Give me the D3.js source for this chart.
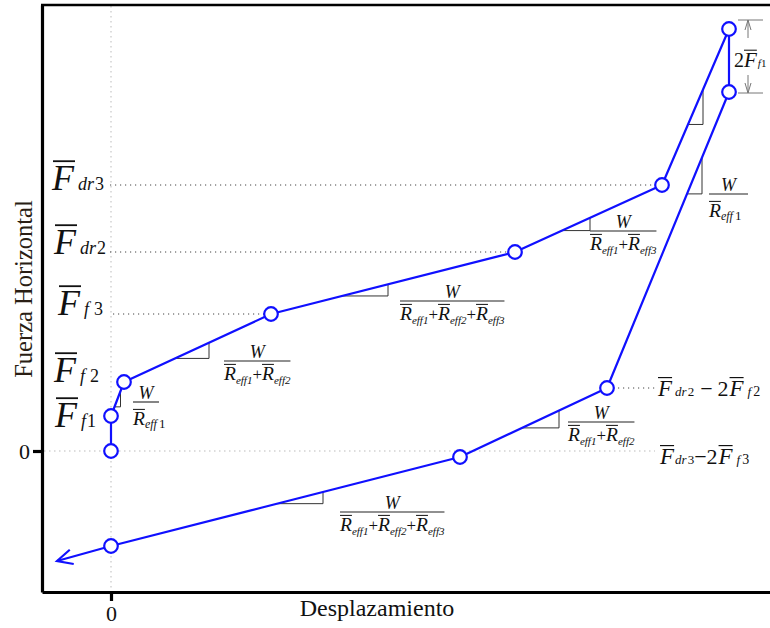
<!DOCTYPE html>
<html><head><meta charset="utf-8">
<script src="https://cdn.jsdelivr.net/npm/d3@7"></script>
<style>body{margin:0;background:#fff} svg{display:block}</style>
</head><body>
<svg id="c" width="770" height="628"></svg>
<script>
// ---------- data ----------
const pathX = [0, 0, 1.3, 16.0, 40.4, 55.1, 61.8, 61.8, 49.6, 34.9, 0, -5.4];
const pathY = [0, 3.5, 6.9, 13.7, 19.9, 26.6, 42.2, 35.9, 6.3, -0.6, -9.5, -11.0];
const markerIdx = [0, 1, 2, 3, 4, 5, 6, 7, 8, 9, 10];
const levelSubs = [["dr", "3"], ["dr", "2"], ["f", "3"], ["f", "2"], ["f", "1"]];
const levelLabelY = [26.1, 19.7, 13.6, 6.9, 2.4];
const guidePointIdx = [5, 4, 3];
const xTicks = [0];
const yTicks = [0];
const slopeSeg = [1, 2, 3, 4, 5, 7, 8, 9];
const slopeX0 = [0.35, 6.4, 23.1, 45.1, 57.7, 57.6, 41.1, 16.6];
const slopeX1 = [0.95, 9.8, 27.7, 47.9, 59.2, 59.1, 44.8, 21.2];
const fracTerms = [[1], [1, 2], [1, 2, 3], [1, 3], [1], [1, 2], [1, 2, 3]];

// ---------- layout ----------
const W = 770, H = 628;
const FONT = "'Liberation Serif','Times New Roman',serif";
const BLUE = "#1010ff";
const svg = d3.select("#c");
const x = d3.scaleLinear().domain([-6.9, 65.9]).range([42, 770]);
const y = d3.scaleLinear().domain([-14.1, 44.6]).range([592, 5]);

// guides
const gGuide = svg.append("g");
gGuide.append("line").attr("x1", x(0)).attr("x2", x(0)).attr("y1", 6).attr("y2", 591)
  .attr("stroke", "#bbb").attr("stroke-width", 1).attr("stroke-dasharray", "1.5,3.5");
gGuide.append("line").attr("x1", 44).attr("x2", 655).attr("y1", y(0)).attr("y2", y(0))
  .attr("stroke", "#bbb").attr("stroke-width", 1).attr("stroke-dasharray", "1.5,3.5");
guidePointIdx.forEach((k, j) => {
  gGuide.append("line").attr("x1", j === 2 ? 113 : 110).attr("x2", x(pathX[k]))
    .attr("y1", y(pathY[k])).attr("y2", y(pathY[k]))
    .attr("stroke", "#444").attr("stroke-width", 1).attr("stroke-dasharray", "1.2,3.8");
});
gGuide.append("line").attr("x1", x(pathX[8]) + 6).attr("x2", 655)
  .attr("y1", y(pathY[8])).attr("y2", y(pathY[8]))
  .attr("stroke", "#444").attr("stroke-width", 1).attr("stroke-dasharray", "1.2,3.8");

// axes
const yAxis = d3.axisLeft(y).tickValues(yTicks).tickSize(9).tickSizeOuter(0).tickFormat(d3.format("d"));
const xAxis = d3.axisBottom(x).tickValues(xTicks).tickSize(9).tickSizeOuter(0).tickFormat(d3.format("d"));
const gy = svg.append("g").attr("transform", `translate(${x.range()[0]},0)`).call(yAxis);
const gx = svg.append("g").attr("transform", `translate(0,${y.range()[0]})`).call(xAxis);
[gx, gy].forEach(g => {
  g.selectAll("path,line").attr("stroke", "#000").attr("stroke-width", 3.2);
  g.selectAll("text").attr("font-family", FONT).attr("font-size", 22).attr("fill", "#111");
});
gy.selectAll("text").attr("x", -12);
gx.selectAll("text").attr("y", 13);
svg.append("line").attr("x1", 41).attr("x2", W).attr("y1", 5).attr("y2", 5)
  .attr("stroke", "#000").attr("stroke-width", 2.6);

// titles
svg.append("text").attr("transform", "translate(32,289) rotate(-90)").attr("text-anchor", "middle")
  .attr("font-family", FONT).attr("font-size", 24.5).attr("fill", "#2a1e14").text("Fuerza Horizontal");
svg.append("text").attr("x", 377).attr("y", 616).attr("text-anchor", "middle")
  .attr("font-family", FONT).attr("font-size", 24).attr("fill", "#111").text("Desplazamiento");

// rich text helper
function rich(g, x0, y0, parts) {
  let cx = x0;
  parts.forEach(p => {
    const dx = p.dx || 0, dy = p.dy || 0;
    const t = g.append("text").attr("x", cx + dx).attr("y", y0 + dy)
      .attr("font-family", FONT).attr("font-size", p.s)
      .attr("font-style", p.i ? "italic" : "normal").attr("fill", "#111").text(p.t);
    const w = t.node().getComputedTextLength();
    if (p.bar) {
      const by = y0 + dy - p.s * 0.8;
      g.append("line").attr("x1", cx + dx + (p.b0 || 0)).attr("x2", cx + dx + w + (p.b1 || 0))
        .attr("y1", by).attr("y2", by).attr("stroke", "#111").attr("stroke-width", Math.max(1, p.s / 20));
    }
    cx += dx + w;
  });
  return cx - x0;
}

// y level labels
const labelX = [52, 54, 58, 54, 55];
levelSubs.forEach((s, i) => {
  rich(svg, labelX[i], y(levelLabelY[i]), [
    {t: "F", s: 36, i: true, bar: true, b0: 1, b1: 1},
    {t: s[0], s: 18, i: true, dx: 4},
    {t: s[1], s: 18, dx: s[0] === "f" && s[1] !== "1" ? 5 : 1}
  ]);
});

// right labels
rich(svg, 658, y(pathY[8]) + 8, [
  {t: "F", s: 23, i: true, bar: true}, {t: "dr", s: 13, i: true, dx: 3}, {t: "2", s: 13, dx: 1},
  {t: "\u2212", s: 22, dx: 6}, {t: "2", s: 22, dx: 5}, {t: "F", s: 23, i: true, bar: true, dx: 1},
  {t: "f", s: 13, i: true, dx: 4}, {t: "2", s: 14, dx: 2}
]);
rich(svg, 660, y(0) + 13, [
  {t: "F", s: 23, i: true, bar: true}, {t: "dr", s: 13, i: true, dx: 1}, {t: "3", s: 13, dx: 1},
  {t: "\u22122", s: 22, dx: 0}, {t: "F", s: 23, i: true, bar: true, dx: 1},
  {t: "f", s: 13, i: true, dx: 4}, {t: "3", s: 14, dx: 2}
]);

// slope triangles
function lineY(seg, xv) {
  const x0 = pathX[seg], x1 = pathX[seg + 1], y0 = pathY[seg], y1 = pathY[seg + 1];
  return y0 + (xv - x0) / (x1 - x0) * (y1 - y0);
}
const gTri = svg.append("g").attr("fill", "none").attr("stroke", "#333").attr("stroke-width", 1);
slopeSeg.forEach((s, i) => {
  const xa = slopeX0[i], xb = slopeX1[i];
  const ya = lineY(s, xa), yb = lineY(s, xb);
  gTri.append("path").attr("d", `M${x(xa)},${y(ya)}H${x(xb)}V${y(yb)}`);
});

// fractions
const fracX = [133, 224, 400, 590, 709, 568, 340];
const fracBarY = [402, 361, 301, 231, 194, 422, 512];
const fracBig = [true, false, false, false, true, false, false];
fracTerms.forEach((terms, i) => {
  const g = svg.append("g");
  const parts = [];
  const big = fracBig[i];
  terms.forEach((k, j) => {
    if (j) parts.push({t: "+", s: 17});
    parts.push({t: "R", s: 19.5, i: true, bar: true});
    if (big) {
      parts.push({t: "eff", s: 12, i: true, dy: 3});
      parts.push({t: String(k), s: 13, dx: 2, dy: 3});
    } else {
      parts.push({t: "eff" + k, s: 11, i: true, dy: 4});
    }
  });
  const dg = g.append("g");
  const w = rich(dg, fracX[i], fracBarY[i] + (big ? 23 : 19), parts);
  const bw = big ? (i === 0 ? 26 : 39) : w;
  g.append("line").attr("x1", fracX[i]).attr("x2", fracX[i] + bw)
    .attr("y1", fracBarY[i]).attr("y2", fracBarY[i]).attr("stroke", "#222").attr("stroke-width", 1.1);
  g.append("text").attr("x", fracX[i] + bw / 2).attr("y", fracBarY[i] - 3).attr("text-anchor", "middle")
    .attr("font-family", FONT).attr("font-size", 18).attr("font-style", "italic").attr("fill", "#111").text("W");
});

// dimension arrows (2F_f1)
const topY = y(pathY[6]) - 9, botY = y(pathY[7]) + 1;
const gDim = svg.append("g").attr("stroke", "#777").attr("stroke-width", 1).attr("fill", "none");
gDim.append("line").attr("x1", 738).attr("x2", 763).attr("y1", topY).attr("y2", topY);
gDim.append("line").attr("x1", 738).attr("x2", 763).attr("y1", botY).attr("y2", botY);
gDim.append("path").attr("d", `M748,${topY}V${topY + 18}M745,${topY + 10}L748,${topY}L751,${topY + 10}`);
gDim.append("path").attr("d", `M748,${botY}V${botY - 18}M745,${botY - 10}L748,${botY}L751,${botY - 10}`);
rich(svg, 734, 67, [{t: "2", s: 20}, {t: "F", s: 21, i: true, bar: true, dx: 0}, {t: "f", s: 11, i: true, dx: 1}, {t: "1", s: 11, dx: 0}]);

// main path
const pts = pathX.map((v, i) => [x(v), y(pathY[i])]);
svg.append("path").attr("d", d3.line()(pts)).attr("fill", "none")
  .attr("stroke", BLUE).attr("stroke-width", 2.2).attr("stroke-linejoin", "round");
// arrow head at end
{
  const n = pts.length, p = pts[n - 1], q = pts[n - 2];
  const ang = Math.atan2(q[1] - p[1], q[0] - p[0]);
  const L = 17, a = 0.45;
  const a1 = [p[0] + L * Math.cos(ang + a), p[1] + L * Math.sin(ang + a)];
  const a2 = [p[0] + L * Math.cos(ang - a), p[1] + L * Math.sin(ang - a)];
  svg.append("path").attr("d", `M${a1}L${p}L${a2}`).attr("fill", "none")
    .attr("stroke", BLUE).attr("stroke-width", 2.2);
}
svg.append("g").selectAll("circle").data(markerIdx).join("circle")
  .attr("cx", i => x(pathX[i])).attr("cy", i => y(pathY[i])).attr("r", 6.8)
  .attr("fill", "#fff").attr("stroke", BLUE).attr("stroke-width", 2.2);
</script>
</body></html>
